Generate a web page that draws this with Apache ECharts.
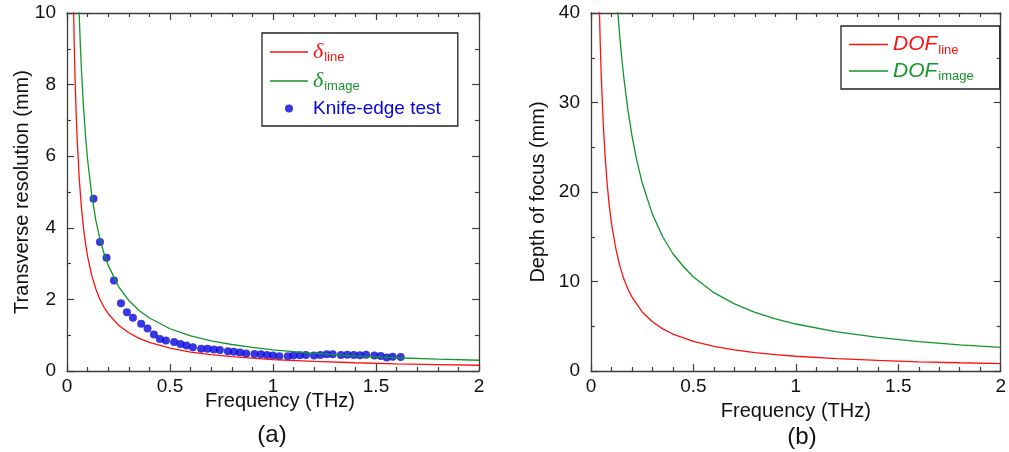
<!DOCTYPE html>
<html>
<head>
<meta charset="utf-8">
<script src="https://cdn.jsdelivr.net/npm/echarts@6/dist/echarts.min.js"></script>
<style>html,body{margin:0;padding:0;background:#fff}#c{width:1009px;height:452px}</style>
</head>
<body>
<div id="c"></div>
<script>
// ---------- data ----------
const freqDeltaLine = [0.03,0.035,0.04,0.045,0.05,0.06,0.07,0.08,0.09,0.10,0.12,0.14,0.16,0.18,0.20,0.25,0.30,0.35,0.40,0.50,0.60,0.70,0.80,0.90,1.0,1.2,1.4,1.6,1.8,2.0];
const deltaLine     = [10.7,9.14,8.0,7.11,6.4,5.33,4.57,4.0,3.56,3.2,2.67,2.29,2.0,1.78,1.6,1.28,1.07,0.91,0.80,0.64,0.53,0.46,0.40,0.36,0.32,0.27,0.23,0.20,0.18,0.16];

const freqDeltaImage = [0.05,0.055,0.06,0.065,0.07,0.08,0.09,0.10,0.12,0.14,0.16,0.18,0.20,0.25,0.30,0.35,0.40,0.50,0.60,0.70,0.80,0.90,1.0,1.2,1.4,1.6,1.8,2.0];
const deltaImage     = [11.8,10.7,9.83,9.08,8.43,7.38,6.56,5.9,4.92,4.21,3.69,3.28,2.95,2.36,1.97,1.69,1.48,1.18,0.98,0.84,0.74,0.66,0.59,0.49,0.42,0.37,0.33,0.30];

const knifeFreq = [0.129,0.160,0.192,0.228,0.262,0.291,0.320,0.360,0.391,0.422,0.451,0.480,0.520,0.551,0.580,0.611,0.651,0.682,0.713,0.742,0.781,0.810,0.840,0.870,0.910,0.941,0.971,1.000,1.031,1.072,1.099,1.130,1.160,1.199,1.230,1.261,1.290,1.330,1.361,1.392,1.422,1.452,1.492,1.523,1.552,1.581,1.620];
const knifeRes  = [4.81,3.60,3.16,2.53,1.89,1.64,1.49,1.32,1.19,1.02,0.895,0.85,0.81,0.755,0.71,0.66,0.625,0.625,0.60,0.59,0.55,0.54,0.52,0.49,0.475,0.465,0.45,0.43,0.41,0.41,0.43,0.44,0.45,0.43,0.45,0.465,0.465,0.45,0.455,0.45,0.44,0.455,0.43,0.42,0.38,0.395,0.39];

const freqDofLine = [0.04,0.045,0.05,0.06,0.07,0.08,0.09,0.10,0.12,0.14,0.16,0.18,0.20,0.25,0.30,0.35,0.40,0.50,0.60,0.70,0.80,0.90,1.0,1.2,1.4,1.6,1.8,2.0];
const dofLine     = [41.3,36.7,33.0,27.5,23.6,20.6,18.3,16.5,13.8,11.8,10.3,9.17,8.25,6.6,5.5,4.71,4.13,3.3,2.75,2.36,2.06,1.83,1.65,1.38,1.18,1.03,0.92,0.83];

const freqDofImage = [0.13,0.14,0.15,0.16,0.18,0.20,0.22,0.25,0.30,0.35,0.40,0.45,0.50,0.60,0.70,0.80,0.90,1.0,1.2,1.4,1.6,1.8,2.0];
const dofImage     = [40.4,37.5,35.0,32.8,29.2,26.3,23.9,21.0,17.5,15.0,13.1,11.7,10.5,8.75,7.5,6.56,5.83,5.25,4.38,3.75,3.28,2.92,2.63];

const xTicks = [0, 0.5, 1, 1.5, 2];
const yTicksA = [0, 2, 4, 6, 8, 10];
const yTicksB = [0, 10, 20, 30, 40];

// ---------- styling ----------
const FONT = 'Liberation Sans, Arial, sans-serif';
const RED = '#ff1010', GREEN = '#13962a', BLUE = '#0505dc';
const AX = '#3c3c3c';
const LINE_ICON = 'path://M0,0H38V1.3H0Z';
const pairs = (xs, ys) => xs.map((x, i) => [x, ys[i]]);

function xAx(grid, pos, named, nameGap, padLeft) {
  return {
    gridIndex: grid, type: 'value', position: pos,
    min: xTicks[0], max: xTicks[xTicks.length - 1], interval: xTicks[1] - xTicks[0],
    name: named ? 'Frequency (THz)' : '', nameLocation: 'middle', nameGap: nameGap,
    nameMoveOverlap: false,
    nameTextStyle: { fontSize: 20, color: '#111', fontFamily: FONT, padding: [0, 0, 0, padLeft || 0] },
    axisLine: { show: true, onZero: false, lineStyle: { color: AX, width: 1.3 } },
    axisTick: { show: true, inside: true, length: 7, lineStyle: { color: AX, width: 1.2 } },
    minorTick: { show: true, splitNumber: 5, length: 4, lineStyle: { color: AX, width: 1.2 } },
    axisLabel: { show: named, fontSize: 19, margin: 6, color: '#111', fontFamily: FONT },
    splitLine: { show: false }
  };
}
function yAx(grid, pos, ticks, name, nameGap) {
  return {
    gridIndex: grid, type: 'value', position: pos,
    min: ticks[0], max: ticks[ticks.length - 1], interval: ticks[1] - ticks[0],
    name: name || '', nameLocation: 'middle', nameGap: nameGap || 0,
    nameMoveOverlap: false,
    nameTextStyle: { fontSize: 20, color: '#111', fontFamily: FONT },
    axisLine: { show: true, onZero: false, lineStyle: { color: AX, width: 1.3 } },
    axisTick: { show: true, inside: true, length: 7, lineStyle: { color: AX, width: 1.2 } },
    minorTick: { show: true, splitNumber: 2, length: 4, lineStyle: { color: AX, width: 1.2 } },
    axisLabel: { show: !!name, fontSize: 19, margin: 11, color: '#111', fontFamily: FONT },
    splitLine: { show: false }
  };
}

const legendNames = {
  'δline': '{dl|δ}{sl|line}',
  'δimage': '{dg|δ}{sg|image}',
  'Knife-edge test': '{kb|Knife-edge test}',
  'DOFline': '{Dl|DOF}{sl|line}',
  'DOFimage': '{Dg|DOF}{sg|image}'
};
const richStyles = {
  dl: { fontSize: 22, fontStyle: 'italic', fontFamily: 'Liberation Serif, serif', color: RED, lineHeight: 24, verticalAlign: 'middle' },
  dg: { fontSize: 22, fontStyle: 'italic', fontFamily: 'Liberation Serif, serif', color: GREEN, lineHeight: 24, verticalAlign: 'middle' },
  Dl: { fontSize: 21, fontStyle: 'italic', fontFamily: FONT, color: RED, lineHeight: 24, verticalAlign: 'middle' },
  Dg: { fontSize: 21, fontStyle: 'italic', fontFamily: FONT, color: GREEN, lineHeight: 24, verticalAlign: 'middle' },
  sl: { fontSize: 13, fontFamily: FONT, color: RED, lineHeight: 24, verticalAlign: 'bottom', padding: [0, 0, 0, 1] },
  sg: { fontSize: 13, fontFamily: FONT, color: GREEN, lineHeight: 24, verticalAlign: 'bottom', padding: [0, 0, 0, 1] },
  kb: { fontSize: 19, fontFamily: FONT, color: BLUE, lineHeight: 24, verticalAlign: 'middle' }
};

const chart = echarts.init(document.getElementById('c'), null, { renderer: 'canvas' });
chart.setOption({
  animation: false,
  backgroundColor: '#fff',
  grid: [
    { left: 67, top: 13, width: 412, height: 358 },
    { left: 591, top: 13, width: 412, height: 358 }
  ],
  xAxis: [
    xAx(0, 'bottom', true, 20, 14),
    xAx(0, 'top', false, 0),
    xAx(1, 'bottom', true, 30, 0),
    xAx(1, 'top', false, 0)
  ],
  yAxis: [
    yAx(0, 'left', yTicksA, 'Transverse resolution (mm)', 35),
    yAx(0, 'right', yTicksA),
    yAx(1, 'left', yTicksB, 'Depth of focus (mm)', 43),
    yAx(1, 'right', yTicksB)
  ],
  legend: [
    {
      left: 262, top: 33, orient: 'vertical', selectedMode: false,
      borderColor: '#222', borderWidth: 1.3, padding: [8, 17, 8, 8],
      itemWidth: 38, itemHeight: 8, itemGap: 6,
      data: [{ name: 'δline', icon: LINE_ICON }, { name: 'δimage', icon: LINE_ICON }, { name: 'Knife-edge test', icon: 'circle' }],
      formatter: n => legendNames[n],
      textStyle: { rich: richStyles }
    },
    {
      left: 841, top: 26, orient: 'vertical', selectedMode: false,
      borderColor: '#222', borderWidth: 1.3, padding: [8, 26, 6, 8],
      itemWidth: 39, itemHeight: 8, itemGap: 4,
      data: [{ name: 'DOFline', icon: LINE_ICON }, { name: 'DOFimage', icon: LINE_ICON }],
      formatter: n => legendNames[n],
      textStyle: { rich: richStyles }
    }
  ],
  series: [
    { name: 'δline', type: 'line', xAxisIndex: 0, yAxisIndex: 0, data: pairs(freqDeltaLine, deltaLine),
      symbol: 'none', lineStyle: { color: RED, width: 1.3 }, itemStyle: { color: RED }, clip: true },
    { name: 'δimage', type: 'line', xAxisIndex: 0, yAxisIndex: 0, data: pairs(freqDeltaImage, deltaImage),
      symbol: 'none', lineStyle: { color: GREEN, width: 1.3 }, itemStyle: { color: GREEN }, clip: true },
    { name: 'Knife-edge test', type: 'scatter', xAxisIndex: 0, yAxisIndex: 0, data: pairs(knifeFreq, knifeRes),
      symbol: 'circle', symbolSize: 8, itemStyle: { color: BLUE } },
    { name: 'DOFline', type: 'line', xAxisIndex: 2, yAxisIndex: 2, data: pairs(freqDofLine, dofLine),
      symbol: 'none', lineStyle: { color: RED, width: 1.3 }, itemStyle: { color: RED }, clip: true },
    { name: 'DOFimage', type: 'line', xAxisIndex: 2, yAxisIndex: 2, data: pairs(freqDofImage, dofImage),
      symbol: 'none', lineStyle: { color: GREEN, width: 1.3 }, itemStyle: { color: GREEN }, clip: true }
  ],
  graphic: [
    { type: 'text', x: 272, y: 435, style: { text: '(a)', fontSize: 24, fontFamily: FONT, fill: '#111', textAlign: 'center', textVerticalAlign: 'middle' } },
    { type: 'text', x: 802, y: 437, style: { text: '(b)', fontSize: 24, fontFamily: FONT, fill: '#111', textAlign: 'center', textVerticalAlign: 'middle' } }
  ]
});
</script>
</body>
</html>
